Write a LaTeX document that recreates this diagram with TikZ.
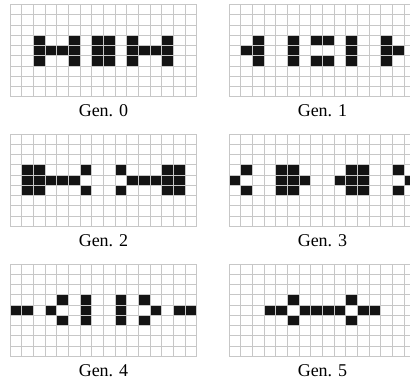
\documentclass[tikz,border=0pt]{standalone}
\usepackage{fontspec}
\setmainfont{Liberation Serif}
\def\cw{11.65}
\def\ch{10.22}
\tikzset{
  gridline/.style={draw=black!22, line width=1pt},
  cellblack/.style={fill=black!92},
  genlabel/.style={font=\fontsize{18}{20}\selectfont, inner sep=0pt, anchor=center}
}
\newcommand\lifegrid[3]{%
  \begin{scope}[shift={(#1,#2)}]
    \foreach \r/\c in {#3} \fill[cellblack] (\c*\cw,\r*\ch) rectangle ++(\cw,\ch);
    \foreach \i in {0,...,16} \draw[gridline] (\i*\cw,0) -- (\i*\cw,9*\ch);
    \foreach \j in {0,...,9} \draw[gridline] (0,\j*\ch) -- (16*\cw,\j*\ch);
  \end{scope}}
\begin{document}
\begin{tikzpicture}[x=1pt,y=-1pt]
\useasboundingbox (0,0) rectangle (410,386);
\clip (0,0) rectangle (410,386);
\lifegrid{10.3}{4.7}{3/2,3/5,3/7,3/8,3/10,3/13,4/2,4/3,4/4,4/5,4/7,4/8,4/10,4/11,4/12,4/13,5/2,5/5,5/7,5/8,5/10,5/13}
\lifegrid{229.3}{4.7}{3/2,3/5,3/7,3/8,3/10,3/13,4/1,4/2,4/5,4/10,4/13,4/14,5/2,5/5,5/7,5/8,5/10,5/13}
\lifegrid{10.3}{134.3}{3/1,3/2,3/6,3/9,3/13,3/14,4/1,4/2,4/3,4/4,4/5,4/10,4/11,4/12,4/13,4/14,5/1,5/2,5/6,5/9,5/13,5/14}
\lifegrid{229.3}{134.3}{3/1,3/4,3/5,3/10,3/11,3/14,4/0,4/4,4/5,4/6,4/9,4/10,4/11,4/15,5/1,5/4,5/5,5/10,5/11,5/14}
\lifegrid{10.3}{264.3}{3/4,3/6,3/9,3/11,4/0,4/1,4/3,4/6,4/9,4/12,4/14,4/15,5/4,5/6,5/9,5/11}
\lifegrid{229.3}{264.3}{3/5,3/10,4/3,4/4,4/6,4/7,4/8,4/9,4/11,4/12,5/5,5/10}
\node[genlabel] (g0) at (103.5,111) {Gen. 0};
\node[genlabel] (g1) at (322.5,111) {Gen. 1};
\node[genlabel] (g2) at (103.5,241) {Gen. 2};
\node[genlabel] (g3) at (322.5,241) {Gen. 3};
\node[genlabel] (g4) at (103.5,371) {Gen. 4};
\node[genlabel] (g5) at (322.5,371) {Gen. 5};
\end{tikzpicture}
\end{document}
